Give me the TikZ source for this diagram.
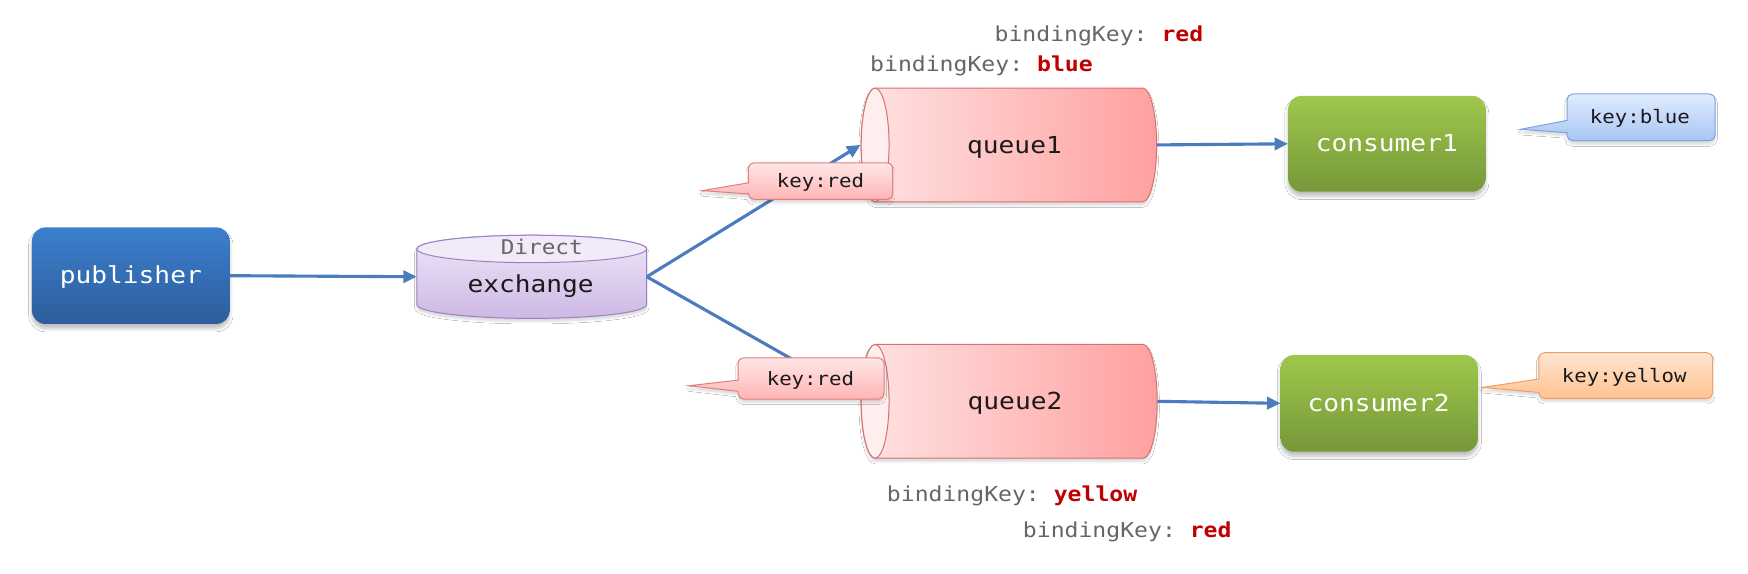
\documentclass[tikz,border=0pt]{standalone}
\usepackage{fontspec}
\newfontfamily\mono[FakeStretch=1.12]{DejaVu Sans Mono}
\usetikzlibrary{arrows.meta,shadows.blur}
\frenchspacing

\definecolor{pubtop}{HTML}{3C7FCD}
\definecolor{pubbot}{HTML}{2D5D9C}
\definecolor{contop}{HTML}{9FC74B}
\definecolor{conbot}{HTML}{76983A}
\definecolor{extop}{HTML}{EFE7F8}
\definecolor{exbot}{HTML}{CDB8E4}
\definecolor{exborder}{HTML}{9C82C2}
\definecolor{extoplight}{HTML}{F1EAF9}
\definecolor{qleft}{HTML}{FFE3E3}
\definecolor{qright}{HTML}{FFA0A0}
\definecolor{qborder}{HTML}{D77170}
\definecolor{qend}{HTML}{FFEEEE}
\definecolor{crtop}{HTML}{FFE6E6}
\definecolor{crbot}{HTML}{FFB5B5}
\definecolor{crborder}{HTML}{E37E7E}
\definecolor{cbtop}{HTML}{E0ECFD}
\definecolor{cbbot}{HTML}{A7C6F4}
\definecolor{cbborder}{HTML}{7EA4DE}
\definecolor{cytop}{HTML}{FFE4CF}
\definecolor{cybot}{HTML}{FFC391}
\definecolor{cyborder}{HTML}{EFA065}
\definecolor{arrowblue}{HTML}{4B7DBE}
\definecolor{keygray}{HTML}{666666}
\definecolor{keyred}{HTML}{C00000}
\definecolor{textdark}{HTML}{1A1A1A}

\newcommand\drawcallout[9]{%
  \path[#1] ({#2+5},#3) -- ({#4-5},#3) arc[start angle=90,end angle=0,radius=5pt]
    -- (#4,{#5-5}) arc[start angle=0,end angle=-90,radius=5pt]
    -- ({#2+5},#5) arc[start angle=270,end angle=180,radius=5pt]
    -- (#2,#7) -- (#8,#9) -- (#2,#6)
    -- (#2,{#3+5}) arc[start angle=180,end angle=90,radius=5pt] -- cycle;}

\tikzset{
  softshadow/.style={blur shadow={shadow xshift=0pt, shadow yshift=-4pt, shadow blur radius=3pt, shadow blur steps=6, shadow opacity=25}},
  lightshadow/.style={blur shadow={shadow xshift=0pt, shadow yshift=-3pt, shadow blur radius=2pt, shadow blur steps=5, shadow opacity=15}},
  conn/.style={draw=arrowblue, line width=2.8pt, -{Triangle[length=12pt,width=11pt]}},
  boxnode/.style={rounded corners=12pt, draw=none, inner sep=0pt, softshadow},
  pubbox/.style={boxnode, top color=pubtop, bottom color=pubbot},
  conbox/.style={boxnode, top color=contop, bottom color=conbot},
  anchorbox/.style={draw=none, fill=none, inner sep=0pt},
  bigtxt/.style={inner sep=0pt, anchor=base, font=\mono\fontsize{21}{21}\selectfont},
  whitetxt/.style={bigtxt, text=white},
  darktxt/.style={bigtxt, text=textdark},
  directtxt/.style={inner sep=0pt, anchor=base, text=keygray, font=\mono\fontsize{18.2}{18.2}\selectfont},
  bk/.style={inner sep=0pt, anchor=base west, text=keygray, font=\mono\fontsize{18.5}{18.5}\selectfont},
  keytxt/.style={inner sep=0pt, anchor=base, text=textdark, font=\mono\fontsize{16.6}{16.6}\selectfont},
  queuebody/.style={draw=qborder, line width=0.9pt, left color=qleft, right color=qright, lightshadow},
  queueend/.style={draw=qborder, line width=0.9pt, fill=qend},
  redcall/.style={draw=crborder, line width=0.9pt, top color=crtop, bottom color=crbot, lightshadow},
  bluecall/.style={draw=cbborder, line width=0.9pt, top color=cbtop, bottom color=cbbot, lightshadow},
  yellowcall/.style={draw=cyborder, line width=0.9pt, top color=cytop, bottom color=cybot, lightshadow},
}

\begin{document}
\begin{tikzpicture}[x=1pt, y=-1pt]
\useasboundingbox (0,0) rectangle (1568,514);
\fill[white] (0,0) rectangle (1568,514);

% exchange cylinder
\path[draw=exborder, line width=0.9pt, top color=extop, bottom color=exbot, lightshadow]
  (374,223.3) -- (374,273.3) arc[start angle=180,end angle=360,x radius=103pt,y radius=12.3pt]
  -- (580,223.3) arc[start angle=0,end angle=180,x radius=103pt,y radius=12.3pt] -- cycle;
\draw[draw=exborder, line width=0.9pt, fill=extoplight] (477,223.3) ellipse[x radius=103pt, y radius=12.3pt];
\node[anchorbox, minimum width=206pt, minimum height=74.5pt] (ex) at (477,248.25) {};

% queue1 cylinder
\path[queuebody] (785,79) -- (1025,79) arc[start angle=90,end angle=-90,x radius=12.5pt,y radius=51pt]
  -- (785,181) arc[start angle=270,end angle=90,x radius=12.5pt,y radius=51pt] -- cycle;
\draw[queueend] (785,130) ellipse[x radius=12.5pt,y radius=51pt];
\node[anchorbox, minimum width=265.5pt, minimum height=102pt] (q1) at (904.75,130) {};

% queue2 cylinder
\path[queuebody] (785,309) -- (1025.5,309) arc[start angle=90,end angle=-90,x radius=12.5pt,y radius=51pt]
  -- (785,411) arc[start angle=270,end angle=90,x radius=12.5pt,y radius=51pt] -- cycle;
\draw[queueend] (785,360) ellipse[x radius=12.5pt,y radius=51pt];
\node[anchorbox, minimum width=266pt, minimum height=102pt] (q2) at (905,360) {};

% boxes
\node[pubbox, minimum width=177.3pt, minimum height=86.6pt] (pub) at (117.35,247.3) {};
\node[conbox, minimum width=177pt, minimum height=86pt] (c1) at (1244,129) {};
\node[conbox, minimum width=177pt, minimum height=86.8pt] (c2) at (1237.25,361.8) {};

% connectors
\draw[conn] (pub.east) -- (ex.west);
\draw[conn] (ex.east) -- (q1.west);
\draw[conn] (ex.east) -- ([yshift=3pt]q2.west);
\draw[conn] (q1.east) -- (c1.west);
\draw[conn] (q2.east) -- (c2.west);

% callouts
\drawcallout{redcall}{671.3}{146}{800.8}{178.8}{164}{174}{630}{171}
\drawcallout{redcall}{662}{321}{793}{358}{341}{351}{618}{346}
\drawcallout{bluecall}{1405.7}{84.3}{1538.5}{126.2}{108}{119}{1364}{116}
\drawcallout{yellowcall}{1380.3}{316.4}{1536.3}{357.3}{340}{352}{1330}{347.5}

% texts
\node[whitetxt] (pubt) at (117.35,254.5) {publisher};
\node[directtxt] (dirt) at (486,228.7) {Direct};
\node[darktxt] (ext) at (476,262.5) {exchange};
\node[darktxt] (q1t) at (910,137.5) {queue1};
\node[darktxt] (q2t) at (910.5,367.2) {queue2};
\node[whitetxt] (c1t) at (1244,136) {consumer1};
\node[whitetxt] (c2t) at (1236.6,369.3) {consumer2};
\node[keytxt] (k1t) at (736,168) {key:red};
\node[keytxt] (k2t) at (727,345.4) {key:red};
\node[keytxt] (kbt) at (1471,110.6) {key:blue};
\node[keytxt] (kyt) at (1457,343.3) {key:yellow};

\node[bk] (bk1) at (892,37.4) {bindingKey: \textcolor{keyred}{\bfseries red}};
\node[bk] (bk2) at (780.4,63.7) {bindingKey: \textcolor{keyred}{\bfseries blue}};
\node[bk] (bk3) at (795.4,450) {bindingKey: \textcolor{keyred}{\bfseries yellow}};
\node[bk] (bk4) at (917.4,482) {bindingKey: \textcolor{keyred}{\bfseries red}};
\end{tikzpicture}
\end{document}
